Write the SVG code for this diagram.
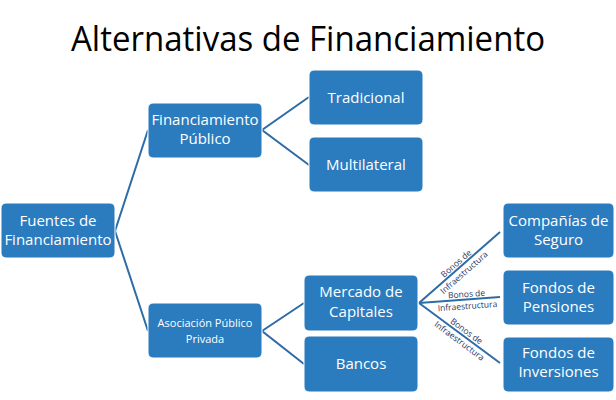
<svg xmlns="http://www.w3.org/2000/svg" width="616" height="400" viewBox="0 0 616 400">
<style>
.box{fill:#2B7BBF;stroke:#ffffff;stroke-width:1}
.t{font-family:"Open Sans","Liberation Sans",sans-serif;font-size:15px;fill:#ffffff;text-anchor:middle}
.s{font-size:11px}
.c{stroke:#2E6CA6;stroke-width:2;fill:none}
.lbl{font-family:"Open Sans","Liberation Sans",sans-serif;font-size:8.5px;fill:#1F3864;text-anchor:middle}
.title{font-family:"Open Sans","Liberation Sans",sans-serif;font-size:35px;fill:#000000;text-anchor:middle}
</style>
<rect width="616" height="400" fill="#ffffff"/>
<text class="title" x="308" y="51" textLength="474" lengthAdjust="spacingAndGlyphs">Alternativas de Financiamiento</text>
<g id="connectors">
<polyline class="c" points="148,130 115,231 148,331"/>
<polyline class="c" points="309,97 262,130 309,165"/>
<polyline class="c" points="304,303 262,331 304,364"/>
<line class="c" x1="419" y1="303" x2="500" y2="232"/>
<line class="c" x1="419" y1="303" x2="500" y2="297"/>
<line class="c" x1="419" y1="303" x2="500" y2="363"/>
<g transform="translate(460,268) rotate(-41.2)">
<text class="lbl" y="-3">Bonos de</text>
<text class="lbl" y="9">Infraestructura</text>
</g>
<g transform="translate(467,300) rotate(-4.2)">
<text class="lbl" y="-3">Bonos de</text>
<text class="lbl" y="9">Infraestructura</text>
</g>
<g transform="translate(463,336) rotate(36.5)">
<text class="lbl" y="-3">Bonos de</text>
<text class="lbl" y="9">Infraestructura</text>
</g>
</g>
<g id="fuentes">
<rect class="box" x="1" y="203" width="114" height="55" rx="5"/>
<text class="t" x="58" y="225.5">Fuentes de</text>
<text class="t" x="58" y="245">Financiamiento</text>
</g>
<g id="publico">
<rect class="box" x="148" y="103" width="114" height="55" rx="5"/>
<text class="t" x="205" y="125">Financiamiento</text>
<text class="t" x="205" y="144">Público</text>
</g>
<g id="tradicional">
<rect class="box" x="309" y="70" width="114" height="55" rx="5"/>
<text class="t" x="366" y="103">Tradicional</text>
</g>
<g id="multilateral">
<rect class="box" x="309" y="137" width="114" height="55" rx="5"/>
<text class="t" x="366" y="170">Multilateral</text>
</g>
<g id="app">
<rect class="box" x="148" y="303" width="114" height="55" rx="5"/>
<text class="t s" x="205" y="327">Asociación Público</text>
<text class="t s" x="205" y="343">Privada</text>
</g>
<g id="mercado">
<rect class="box" x="304" y="275" width="114" height="56" rx="5"/>
<text class="t" x="361" y="297">Mercado de</text>
<text class="t" x="361" y="317">Capitales</text>
</g>
<g id="bancos">
<rect class="box" x="304" y="336" width="114" height="56" rx="5"/>
<text class="t" x="361" y="369">Bancos</text>
</g>
<g id="companias">
<rect class="box" x="503" y="203" width="111" height="55" rx="5"/>
<text class="t" x="558.5" y="226">Compañías de</text>
<text class="t" x="558.5" y="245">Seguro</text>
</g>
<g id="pensiones">
<rect class="box" x="503" y="270" width="111" height="55" rx="5"/>
<text class="t" x="558.5" y="293">Fondos de</text>
<text class="t" x="558.5" y="312">Pensiones</text>
</g>
<g id="inversiones">
<rect class="box" x="503" y="337" width="111" height="55" rx="5"/>
<text class="t" x="558.5" y="358">Fondos de</text>
<text class="t" x="558.5" y="377">Inversiones</text>
</g>
</svg>
